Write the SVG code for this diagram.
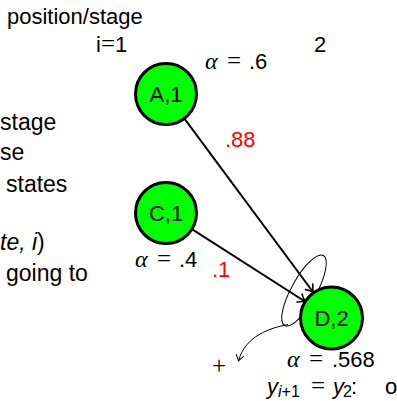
<svg xmlns="http://www.w3.org/2000/svg" width="397" height="401" viewBox="0 0 397 401">
<style>
.t{font-family:"Liberation Sans","DejaVu Sans",sans-serif;font-size:22px;fill:#000}
.l{font-family:"Liberation Sans","DejaVu Sans",sans-serif;font-size:23px;fill:#000}
.m{font-family:"Liberation Serif","DejaVu Serif",serif;font-style:italic;font-size:24px}
.eq{font-family:"Liberation Serif","DejaVu Serif",serif;font-size:25px}
.r{fill:#ff0000}
.node{fill:#00ff00;stroke:#000;stroke-width:3}
.edge{fill:none;stroke:#000;stroke-width:2}
.thin{fill:none;stroke:#000;stroke-width:1}
</style>
<defs>
<marker id="ah" viewBox="-10 -6 12 12" refX="0" refY="0" markerWidth="12" markerHeight="12" markerUnits="userSpaceOnUse" orient="auto">
<path d="M -7 -5 Q -2 -1 0 0 Q -2 1 -7 5" fill="none" stroke="#000" stroke-width="1.6"/>
</marker>
<marker id="ah2" viewBox="-10 -6 12 12" refX="0" refY="0" markerWidth="12" markerHeight="12" markerUnits="userSpaceOnUse" orient="auto">
<path d="M -6 -4 Q -2 -1 0 0 Q -2 1 -6 4" fill="none" stroke="#000" stroke-width="1"/>
</marker>
</defs>
<rect width="397" height="401" fill="#fff"/>

<text class="t" x="7" y="24">position/stage</text>
<text class="t" x="96" y="52">i<tspan class="eq" font-size="22">=</tspan>1</text>
<text class="t" x="314" y="52">2</text>

<text class="l" x="0" y="130">stage</text>
<text class="l" x="0" y="160">se</text>
<text class="l" x="6" y="192">states</text>
<text class="l" x="0" y="250"><tspan font-style="italic">te, i</tspan>)</text>
<text class="l" x="6" y="281">going to</text>

<g id="connectors">
<line class="edge" x1="184.6" y1="118.8" x2="313" y2="292" marker-end="url(#ah)"/>
<line class="edge" x1="192.3" y1="229.4" x2="305" y2="301.5" marker-end="url(#ah)"/>
<ellipse class="thin" cx="304" cy="290.5" rx="40" ry="12.5" transform="rotate(-61 304 290.5)"/>
<path class="thin" d="M 288 324.5 C 270 328 245 336 238.5 361" marker-end="url(#ah2)"/>
</g>

<g id="A">
<circle cx="166" cy="94" r="30.5" class="node"/>
<text class="t" x="166" y="101.5" text-anchor="middle">A,1</text>
</g>
<g id="C">
<circle cx="166" cy="213" r="30.5" class="node"/>
<text class="t" x="166" y="220.5" text-anchor="middle">C,1</text>
</g>
<g id="D">
<circle cx="331.5" cy="318" r="31" class="node"/>
<text class="t" x="331.5" y="325.5" text-anchor="middle">D,2</text>
</g>

<text class="t" y="367"><tspan class="m" x="287">α</tspan><tspan class="eq" x="309">=</tspan><tspan x="332">.568</tspan></text>
<text class="t" y="69"><tspan class="m" x="205">α</tspan><tspan class="eq" x="227">=</tspan><tspan x="249">.6</tspan></text>
<text class="t r" x="225" y="147">.88</text>
<text class="t" y="267"><tspan class="m" x="135">α</tspan><tspan class="eq" x="157">=</tspan><tspan x="179">.4</tspan></text>
<text class="t r" x="212" y="277">.1</text>
<text class="eq" x="212" y="374" font-size="30">+</text>
<text class="t" y="394"><tspan font-style="italic" x="267">y</tspan><tspan font-size="16" dy="3"><tspan font-style="italic" x="278">i</tspan>+1</tspan><tspan class="eq" dy="-3" x="311">=</tspan><tspan font-style="italic" x="333">y</tspan><tspan font-size="16" dy="3" x="343">2</tspan><tspan dy="-3" x="351">:</tspan><tspan x="385">o</tspan></text>
</svg>
